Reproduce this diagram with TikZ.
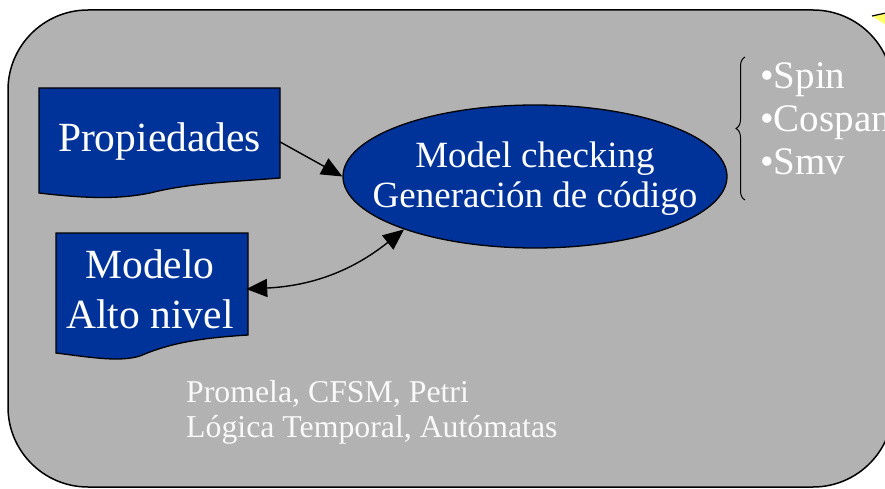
\documentclass[tikz,border=0pt]{standalone}
\usepackage{fontspec}
\setmainfont{Liberation Serif}
\usepackage{tikz}
\usetikzlibrary{shapes}
\usetikzlibrary{arrows.meta}
\usetikzlibrary{decorations.pathreplacing}
\definecolor{panelgray}{HTML}{B2B2B2}
\definecolor{boxblue}{HTML}{003399}
\definecolor{noteyellow}{HTML}{FFFF66}
\begin{document}
\begin{tikzpicture}[x=1pt, y=-1pt]
    \tikzstyle{doc}=[fill=boxblue, draw=black, line width=1.3pt]
    \tikzstyle{box}=[inner sep=0pt, text=white, align=center]
    \tikzstyle{flecha}=[line width=1.4pt, -{Triangle[length=21pt, width=18pt]}]
    \useasboundingbox (0,0) rectangle (885,489);
    \clip (0,0) rectangle (885,489);
    \filldraw[fill=panelgray, line width=1.5pt, rounded corners=80pt] (8,10) rectangle (893,487);
    \filldraw[fill=noteyellow, draw=none] (872,16) -- (886,13) -- (886,25) -- cycle;
    \draw[line width=1.2pt] (872,16) -- (886,13);
    \draw[doc] (39,88) -- (280,88) -- (280,178) .. controls (230,182) and (190,183) .. (150,193)
      .. controls (120,199) and (90,199) .. (39,193) -- cycle;
    \draw[doc] (56,233) -- (248,233) -- (248,335) .. controls (200,338) and (170,343) .. (140,356)
      .. controls (120,362) and (95,358) .. (56,353) -- cycle;
    \node[box, minimum width=241pt, minimum height=108pt, font=\fontsize{41.5}{50}\selectfont]
      (prop) at (159.5,142) {Propiedades};
    \node[box, minimum width=192pt, font=\fontsize{41.5}{50}\selectfont]
      (modelo) at (150,289) {Modelo\\Alto nivel};
    \node[ellipse, fill=boxblue, draw=black, line width=1.3pt, inner sep=0pt,
      minimum width=384pt, minimum height=143pt] (mc) at (535,176.5) {};
    \node[box, font=\fontsize{37}{40}\selectfont] (mctext) at (535,179) {Model checking\\Generación de código};
    \node[inner sep=0pt, anchor=north west, align=left, text=white, font=\fontsize{39}{43}\selectfont]
      (tools) at (760,62) {•Spin\\•Cospan\\•Smv};
    \node[inner sep=0pt, anchor=north west, align=left, text=white!95!gray, font=\fontsize{31.8}{35}\selectfont]
      (lang) at (186,380) {Promela, CFSM, Petri\\Lógica Temporal, Autómatas};
    \draw[line width=1pt, decorate, decoration={brace, amplitude=9pt}] (745,200) -- (745,57);
    \draw[flecha] (prop.east) -- (mc.west);
    \draw[flecha, {Triangle[length=21pt, width=18pt]}-{Triangle[length=21pt, width=18pt]}]
      (modelo.east) to[bend right=18] (mc.202);
  \end{tikzpicture}
\end{document}
